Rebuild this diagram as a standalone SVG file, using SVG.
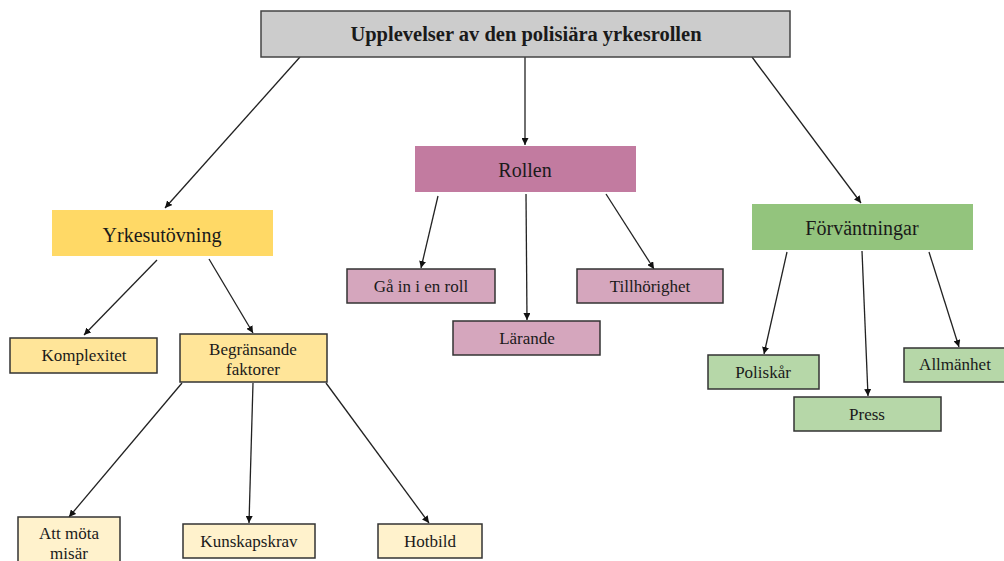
<svg xmlns="http://www.w3.org/2000/svg" width="1004" height="561" viewBox="0 0 1004 561">
<style>
text{font-family:"Liberation Serif","Times New Roman",serif;fill:#1a1a1a;text-anchor:middle;dominant-baseline:central}
.t{font-size:20.5px;font-weight:bold}
.m{font-size:20px}
.s{font-size:17px}
.sub{stroke:#333;stroke-width:1.5}
.c line{stroke:#222;stroke-width:1.3;marker-end:url(#a)}
</style>
<defs>
<marker id="a" viewBox="0 0 10 10" refX="10" refY="5" markerWidth="7" markerHeight="7" markerUnits="userSpaceOnUse" orient="auto">
<path d="M0,0L10,5L0,10z" fill="#111"/>
</marker>
</defs>
<rect width="1004" height="561" fill="#fff"/>
<g class="c">
<line x1="300" y1="57" x2="165" y2="208"/>
<line x1="525" y1="57" x2="525" y2="145"/>
<line x1="752" y1="57" x2="861" y2="203"/>
<line x1="157" y1="260" x2="84" y2="335"/>
<line x1="209" y1="259" x2="253" y2="333"/>
<line x1="182" y1="383" x2="69" y2="517"/>
<line x1="253" y1="383" x2="249" y2="523"/>
<line x1="326" y1="383" x2="429" y2="523"/>
<line x1="438" y1="196" x2="421" y2="268"/>
<line x1="526" y1="194" x2="527" y2="320"/>
<line x1="606" y1="194" x2="654" y2="269"/>
<line x1="787" y1="252" x2="764" y2="354"/>
<line x1="862" y1="251" x2="868" y2="396"/>
<line x1="929" y1="252" x2="959" y2="347"/>
</g>
<g id="root"><rect x="261" y="11" width="529" height="46" fill="#cccccc" stroke="#444" stroke-width="1.5"/><text class="t" x="526" y="34">Upplevelser av den polisiära yrkesrollen</text></g>
<g id="rollen"><rect x="415" y="146" width="221" height="46" fill="#c27ba0"/><text class="m" x="525" y="170">Rollen</text></g>
<g id="yrkes"><rect x="52" y="210" width="221" height="46" fill="#ffd966"/><text class="m" x="162" y="235">Yrkesutövning</text></g>
<g id="forv"><rect x="752" y="204" width="221" height="46" fill="#93c47d"/><text class="m" x="862" y="228">Förväntningar</text></g>
<g id="komplexitet"><rect class="sub" x="10" y="338" width="147" height="35" fill="#ffe599"/><text class="s" x="84" y="355">Komplexitet</text></g>
<g id="begransande"><rect class="sub" x="180" y="334" width="147" height="48" fill="#ffe599"/><text class="s" x="253" y="349">Begränsande</text><text class="s" x="253" y="369">faktorer</text></g>
<g id="misar"><rect class="sub" x="18" y="517" width="102" height="50" fill="#fff2cc"/><text class="s" x="69" y="533">Att möta</text><text class="s" x="69" y="553">misär</text></g>
<g id="kunskap"><rect class="sub" x="183" y="524" width="132" height="34" fill="#fff2cc"/><text class="s" x="249" y="541">Kunskapskrav</text></g>
<g id="hotbild"><rect class="sub" x="378" y="524" width="104" height="34" fill="#fff2cc"/><text class="s" x="430" y="541">Hotbild</text></g>
<g id="gain"><rect class="sub" x="347" y="269" width="148" height="34" fill="#d5a6bd"/><text class="s" x="421" y="286">Gå in i en roll</text></g>
<g id="larande"><rect class="sub" x="453" y="321" width="147" height="34" fill="#d5a6bd"/><text class="s" x="527" y="338">Lärande</text></g>
<g id="tillhorighet"><rect class="sub" x="577" y="269" width="146" height="34" fill="#d5a6bd"/><text class="s" x="650" y="286">Tillhörighet</text></g>
<g id="poliskar"><rect class="sub" x="708" y="355" width="111" height="34" fill="#b6d7a8"/><text class="s" x="763" y="372">Poliskår</text></g>
<g id="press"><rect class="sub" x="794" y="397" width="147" height="34" fill="#b6d7a8"/><text class="s" x="867" y="414">Press</text></g>
<g id="allmanhet"><rect class="sub" x="904" y="348" width="104" height="34" fill="#b6d7a8"/><text class="s" x="955" y="364">Allmänhet</text></g>
</svg>
